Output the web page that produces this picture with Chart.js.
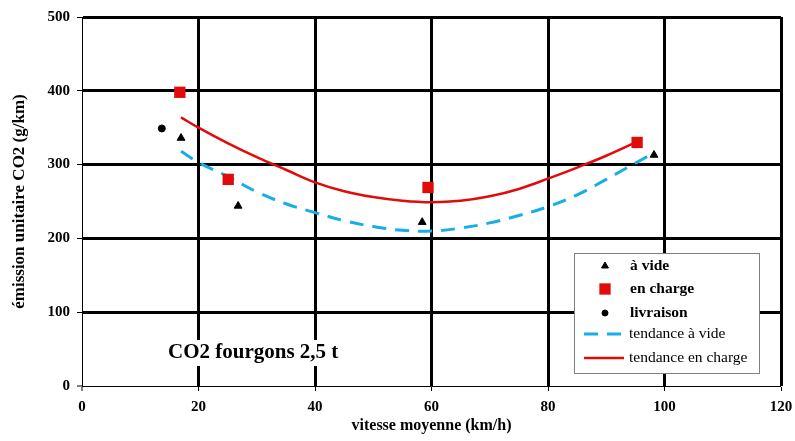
<!DOCTYPE html>
<html>
<head>
<meta charset="utf-8">
<script src="https://cdn.jsdelivr.net/npm/chart.js@4.4.0/dist/chart.umd.min.js"></script>
<style>
html, body { margin: 0; padding: 0; background: #fff; }
</style>
</head>
<body>
<canvas id="co2Chart" width="795" height="441"></canvas>
<script>
// points mesurés
var videX = [17, 26.8, 58.4, 98.2];
var videY = [336, 244, 222, 313];
var chargeX = [16.8, 25.1, 59.4, 95.3];
var chargeY = [398, 280, 269, 330];
var livraisonX = [13.7];
var livraisonY = [349];

// courbes de tendance
var trendVideX = [17, 20, 25, 30, 35, 40, 45, 50, 55, 60, 65, 70, 75, 80, 85, 90, 95, 98.2];
var trendVideY = [318, 303, 284, 263, 247, 235, 224, 216, 211, 210, 214, 221, 231, 243, 259, 280, 302, 316];
var trendChargeX = [17, 20, 25, 30, 35, 40, 45, 50, 55, 60, 65, 70, 75, 80, 85, 90, 95.3];
var trendChargeY = [364, 350, 329, 310, 293, 276, 264, 256, 251, 249, 251, 257, 267, 281, 296, 312, 331];

var xTicks = [0, 20, 40, 60, 80, 100, 120];
var yTicks = [0, 100, 200, 300, 400, 500];

var serif = 'Liberation Serif, Times New Roman, serif';

function pts(xs, ys) {
    var out = [];
    for (var i = 0; i < xs.length; i++) {
        out.push({x: xs[i], y: ys[i]});
    }
    return out;
}

// légende encadrée + titre dans la zone du graphique
var boxPlugin = {
    id: 'boxPlugin',
    afterDraw: function(chart) {
        var ctx = chart.ctx;
        var area = chart.chartArea;
        ctx.save();

        // titre
        ctx.fillStyle = '#fff';
        ctx.fillRect(area.left + 80, area.bottom - 46, 185, 26);
        ctx.fillStyle = '#000';
        ctx.font = 'bold 21px ' + serif;
        ctx.textBaseline = 'middle';
        ctx.textAlign = 'left';
        ctx.fillText('CO2 fourgons 2,5 t', area.left + 86, area.bottom - 33);

        // légende
        var bx = area.right - 207, by = area.bottom - 133, bw = 185, bh = 120;
        ctx.fillStyle = '#fff';
        ctx.fillRect(bx, by, bw, bh);
        ctx.strokeStyle = '#808080';
        ctx.lineWidth = 1;
        ctx.strokeRect(bx + 0.5, by + 0.5, bw, bh);

        var rows = [13, 36, 60, 81, 105];
        chart.data.datasets.forEach(function(ds, i) {
            var y = by + rows[i];
            ctx.textBaseline = 'middle';
            ctx.textAlign = 'left';
            if (!ds.showLine) {
                ctx.fillStyle = ds.backgroundColor;
                ctx.strokeStyle = ds.borderColor;
                ctx.lineWidth = 1;
                Chart.helpers.drawPoint(ctx, {
                    pointStyle: ds.pointStyle,
                    radius: ds.legendRadius,
                    rotation: 0,
                    borderWidth: ds.borderWidth
                }, bx + 31, y);
                ctx.font = 'bold 15.5px ' + serif;
                ctx.fillStyle = '#000';
                ctx.fillText(ds.label, bx + 56, y);
            } else {
                ctx.beginPath();
                ctx.strokeStyle = ds.borderColor;
                ctx.lineWidth = ds.borderWidth;
                ctx.setLineDash(ds.borderDash || []);
                ctx.moveTo(bx + 10, y);
                ctx.lineTo(bx + 50, y);
                ctx.stroke();
                ctx.setLineDash([]);
                ctx.font = '15.5px ' + serif;
                ctx.fillStyle = '#000';
                ctx.fillText(ds.label, bx + 55, y);
            }
        });
        ctx.restore();
    }
};

var ctx = document.getElementById('co2Chart');

var co2Chart = new Chart(ctx, {
    type: 'scatter',
    data: {
        datasets: [{
            label: 'à vide',
            data: pts(videX, videY),
            pointStyle: 'triangle',
            pointRadius: 4.5,
            legendRadius: 4,
            backgroundColor: '#000',
            borderColor: '#000',
            borderWidth: 1
        }, {
            label: 'en charge',
            data: pts(chargeX, chargeY),
            pointStyle: 'rect',
            pointRadius: 8,
            legendRadius: 8,
            backgroundColor: '#e00b0b',
            borderColor: '#e00b0b',
            borderWidth: 0
        }, {
            label: 'livraison',
            data: pts(livraisonX, livraisonY),
            pointStyle: 'circle',
            pointRadius: 3.5,
            legendRadius: 3,
            backgroundColor: '#000',
            borderColor: '#000',
            borderWidth: 1
        }, {
            label: 'tendance à vide',
            data: pts(trendVideX, trendVideY),
            showLine: true,
            borderColor: '#17aee8',
            backgroundColor: '#17aee8',
            borderWidth: 3,
            borderDash: [14, 9],
            pointRadius: 0,
            tension: 0.4
        }, {
            label: 'tendance en charge',
            data: pts(trendChargeX, trendChargeY),
            showLine: true,
            borderColor: '#e00b0b',
            backgroundColor: '#e00b0b',
            borderWidth: 2.5,
            pointRadius: 0,
            tension: 0.4
        }]
    },
    options: {
        responsive: false,
        animation: false,
        devicePixelRatio: 1,
        layout: {
            padding: {top: 17, right: 14, left: 0, bottom: 0}
        },
        plugins: {
            legend: {display: false},
            tooltip: {enabled: false}
        },
        scales: {
            x: {
                type: 'linear',
                min: 0,
                max: 120,
                afterBuildTicks: function(scale) {
                    scale.ticks = xTicks.map(function(v) { return {value: v}; });
                },
                afterFit: function(scale) {
                    scale.height = 55;
                    scale.paddingLeft = 0;
                    scale.paddingRight = 0;
                },
                ticks: {
                    color: '#000',
                    padding: 7,
                    font: {family: serif, size: 15, weight: 'bold'}
                },
                grid: {
                    color: '#000',
                    lineWidth: function(c) { return c.tick && c.tick.value === 0 ? 0 : 3; },
                    tickWidth: 1,
                    tickLength: 5,
                    tickColor: '#000'
                },
                border: {color: '#000', width: 1},
                title: {
                    display: true,
                    text: 'vitesse moyenne (km/h)',
                    color: '#000',
                    font: {family: serif, size: 16, weight: 'bold'},
                    padding: {bottom: 6, top: 0}
                }
            },
            y: {
                min: 0,
                max: 500,
                afterBuildTicks: function(scale) {
                    scale.ticks = yTicks.map(function(v) { return {value: v}; });
                },
                afterFit: function(scale) {
                    scale.width = 82;
                    scale.paddingTop = 0;
                    scale.paddingBottom = 0;
                },
                ticks: {
                    color: '#000',
                    padding: 7,
                    font: {family: serif, size: 15, weight: 'bold'}
                },
                grid: {
                    color: '#000',
                    lineWidth: function(c) { return c.tick && c.tick.value === 0 ? 0 : 3; },
                    tickWidth: 1,
                    tickLength: 5,
                    tickColor: '#000'
                },
                border: {color: '#000', width: 1},
                title: {
                    display: true,
                    text: 'émission unitaire CO2 (g/km)',
                    color: '#000',
                    font: {family: serif, size: 17, weight: 'bold'},
                    padding: {top: 9, bottom: 0}
                }
            }
        }
    },
    plugins: [boxPlugin]
});
</script>
</body>
</html>
